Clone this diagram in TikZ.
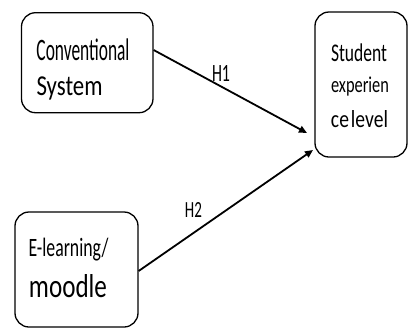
\documentclass[tikz,border=0pt]{standalone}
\usepackage{fontspec}
\setmainfont{Carlito}
\usepackage{graphicx}
\usetikzlibrary{arrows.meta}
\newcommand\fitline[3]{\resizebox{#1}{#2}{#3}}
\begin{document}
\begin{tikzpicture}[x=1bp,y=-1bp,
  box/.style={draw,line width=1.3bp,rounded corners=14bp,inner sep=0pt},
  txt/.style={anchor=base west,inner sep=0pt,outer sep=0pt},
  arr/.style={line width=1.8bp,-{Triangle[length=8bp,width=7bp]}}]
\useasboundingbox (0,0) rectangle (408,329);
% boxes
\node[box,minimum width=131.5bp,minimum height=100bp] (b1) at (87.25,62.7) {};
\node[box,minimum width=92bp,minimum height=145bp] (b2) at (361,84.5) {};
\node[box,minimum width=123bp,minimum height=115bp] (b3) at (76.5,269.5) {};
% texts
\node[txt] (c1) at (36.5,60) {\fitline{93bp}{21.7bp}{Conventional}};
\node[txt] (c2) at (36.5,95.7) {\fitline{66bp}{18.7bp}{System}};
\node[txt] (s1) at (331,61.7) {\fitline{56bp}{17.7bp}{Student}};
\node[txt] (s2) at (331,92.3) {\fitline{58bp}{15.6bp}{experien}};
\node[txt] (s3) at (331,127) {\fitline{57bp}{17bp}{ce\hspace{0.1em}level}};
\node[txt] (e1) at (28.5,256.7) {\fitline{80bp}{18.4bp}{E-learning/}};
\node[txt] (e2) at (29,297) {\fitline{78bp}{23bp}{moodle}};
% arrows
\coordinate (t1) at (307,133);
\coordinate (t2) at (313,150);
\draw[arr] ([yshift=12.7bp]b1.east) -- (t1);
\draw[arr] ([yshift=-1.5bp]b3.east) -- (t2);
\node[txt] (h1) at (212,81.5) {\fitline{18bp}{16bp}{H1}};
\node[txt] (h2) at (185,217) {\fitline{17bp}{15bp}{H2}};
\end{tikzpicture}
\end{document}
